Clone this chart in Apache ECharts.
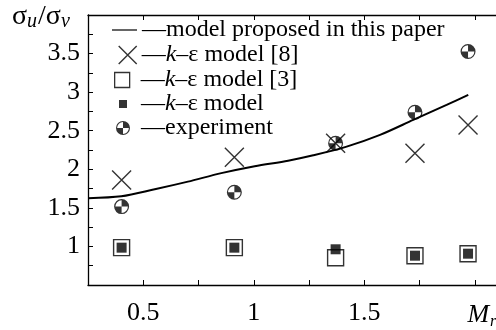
<!DOCTYPE html>
<html><head><meta charset="utf-8">
<script src="https://cdn.jsdelivr.net/npm/echarts@6/dist/echarts.min.js"></script>
<style>html,body{margin:0;padding:0;background:#fff}#c{width:496px;height:330px}</style>
</head><body><div id="c"></div>
<script>
// ---- data ----
const modelX = [0.25, 0.401, 0.552, 0.702, 0.853, 1.004, 1.155, 1.269, 1.420, 1.571, 1.721, 1.872, 1.970];
const modelY = [1.626, 1.650, 1.741, 1.840, 1.950, 2.040, 2.112, 2.182, 2.294, 2.446, 2.640, 2.835, 2.964];
const pointX = [0.402, 0.912, 1.370, 1.729, 1.969];
const ke8Y   = [1.862, 2.156, 2.338, 2.208, 2.575];
const ke3Y   = [0.984, 0.984, 0.854, 0.880, 0.906];
const keY    = [0.984, 0.984, 0.963, 0.880, 0.906];
const expY   = [1.516, 1.702, 2.338, 2.740, 3.526];
const xLabelValues = [0.5, 1, 1.5, 2];
const xLabelTexts  = ['0.5', '1', '1.5', '{m|M}{r|r}'];
const yLabelValues = [1, 1.5, 2, 2.5, 3, 3.5];
const yLabelTexts  = ['1', '1.5', '2', '2.5', '3', '3.5'];
const seriesNames = ['model proposed in this paper', 'k–ε model [8]', 'k–ε model [3]', 'k–ε model', 'experiment'];

const FONT = 'Liberation Serif';
const pairs = (xs, ys) => xs.map((x, i) => [x, ys[i]]);
const crossPath = 'path://M0,0L20,20M20,0L0,20';
const expPath = 'path://M0,10A10,10 0 1,1 20,10A10,10 0 1,1 0,10Z' +
  'M1.6,10A8.4,8.4 0 1,0 18.4,10A8.4,8.4 0 1,0 1.6,10Z' +
  'M10,10L10,1.6A8.4,8.4 0 0,1 18.4,10Z' +
  'M10,10L10,18.4A8.4,8.4 0 0,1 1.6,10Z';

function fmtLegend(name) {
  return '—' + name.replace('k–ε', '{k|k}–ε');
}
const legendText = (padLeft) => ({
  fontFamily: FONT, fontSize: 24, color: '#000', padding: [0, 0, 0, padLeft],
  rich: { k: { fontFamily: FONT, fontSize: 24, fontStyle: 'italic', color: '#000' } }
});
function mkLegend(item, left, center, w, h, pad, extra) {
  return Object.assign({
    data: [item], left: left, top: center - 12, orient: 'vertical', padding: 0,
    itemWidth: w, itemHeight: h, itemGap: 0, selectedMode: false,
    formatter: fmtLegend, textStyle: legendText(pad)
  }, extra || {});
}
function nearIdx(arr, v) { return arr.findIndex(a => Math.abs(a - v) < 1e-6); }

const chart = echarts.init(document.getElementById('c'), null, { renderer: 'canvas' });
chart.setOption({
  animation: false,
  backgroundColor: '#fff',
  textStyle: { fontFamily: FONT, color: '#000' },
  grid: { left: 88, top: 15, bottom: 45, right: -1, containLabel: false, outerBoundsMode: 'none' },
  graphic: [{
    type: 'text', left: 12, top: 3,
    style: {
      text: '{s|σ}{b|u}{s|/σ}{b|v}', fill: '#000', fontFamily: FONT, fontSize: 28,
      rich: {
        s: { fontFamily: FONT, fontSize: 28, fill: '#000' },
        b: { fontFamily: FONT, fontSize: 20, fontStyle: 'italic', fill: '#000', verticalAlign: 'bottom', padding: [9, 1, 0, 0] }
      }
    }
  }],
  legend: [
    mkLegend({ name: seriesNames[0], icon: 'rect' }, 112, 30, 25, 1.5, 0, { itemStyle: { color: '#333', borderWidth: 0 } }),
    mkLegend(seriesNames[1], 118, 55, 18, 18, 0, { itemStyle: { borderWidth: 1.4 } }),
    mkLegend(seriesNames[2], 114, 80, 15, 15, 6, { itemStyle: { borderWidth: 1.3 } }),
    mkLegend(seriesNames[3], 119, 104, 8, 8, 9, { itemStyle: { borderWidth: 0 } }),
    mkLegend(seriesNames[4], 116, 128, 14, 14, 6, { itemStyle: { borderWidth: 0 } })
  ],
  xAxis: [{
    type: 'value', min: 0.25, max: 2.1, interval: 0.25,
    axisLine: { show: true, lineStyle: { color: '#000', width: 1.3 } },
    axisTick: { show: true, inside: true, length: 5, lineStyle: { color: '#000', width: 1 } },
    splitLine: { show: false },
    axisLabel: {
      margin: 15, fontFamily: FONT, fontSize: 26, color: '#000', showMinLabel: true, showMaxLabel: true,
      formatter: v => { const i = nearIdx(xLabelValues, v); return i < 0 ? '' : xLabelTexts[i]; },
      rich: {
        m: { fontFamily: FONT, fontSize: 26, fontStyle: 'italic', color: '#000', padding: [0, 0, 0, 14] },
        r: { fontFamily: FONT, fontSize: 16, fontStyle: 'italic', color: '#000', padding: [14, 0, 0, 1] }
      }
    }
  }, {
    type: 'value', position: 'top', min: 0.25, max: 2.1, interval: 0.25,
    axisLine: { show: true, lineStyle: { color: '#000', width: 1.3 } },
    axisTick: { show: true, inside: true, length: 5, lineStyle: { color: '#000', width: 1 } },
    axisLabel: { show: false }, splitLine: { show: false }
  }],
  yAxis: [{
    type: 'value', min: 0.5, max: 4, interval: 0.5,
    axisLine: { show: true, lineStyle: { color: '#000', width: 1.3 } },
    axisTick: { show: true, inside: true, length: 5, lineStyle: { color: '#000', width: 1 } },
    minorTick: { show: true, splitNumber: 2, length: 5, lineStyle: { color: '#000', width: 1 } },
    splitLine: { show: false },
    axisLabel: {
      margin: 8, fontFamily: FONT, fontSize: 26, color: '#000',
      formatter: v => { const i = nearIdx(yLabelValues, v); return i < 0 ? '' : yLabelTexts[i]; }
    }
  }],
  series: [
    {
      name: seriesNames[0], type: 'line', smooth: 0.3, showSymbol: false, symbol: 'none',
      data: pairs(modelX, modelY), lineStyle: { color: '#000', width: 2 }, itemStyle: { color: '#000' }, z: 3
    },
    {
      name: seriesNames[2], type: 'scatter', symbol: 'rect', symbolSize: 16,
      data: pairs(pointX, ke3Y), itemStyle: { color: '#fff', borderColor: '#000', borderWidth: 1.4 }, z: 4
    },
    {
      name: seriesNames[3], type: 'scatter', symbol: 'rect', symbolSize: 10,
      data: pairs(pointX, keY), itemStyle: { color: '#000', borderWidth: 0 }, z: 5
    },
    {
      name: seriesNames[4], type: 'scatter', symbol: expPath, symbolSize: 15,
      data: pairs(pointX, expY), itemStyle: { color: '#000', borderWidth: 0 }, z: 5
    },
    {
      name: seriesNames[1], type: 'scatter', symbol: crossPath, symbolSize: 19,
      data: pairs(pointX, ke8Y), itemStyle: { color: 'rgba(0,0,0,0)', borderColor: '#000', borderWidth: 1.4 }, z: 6
    }
  ]
});
</script></body></html>
